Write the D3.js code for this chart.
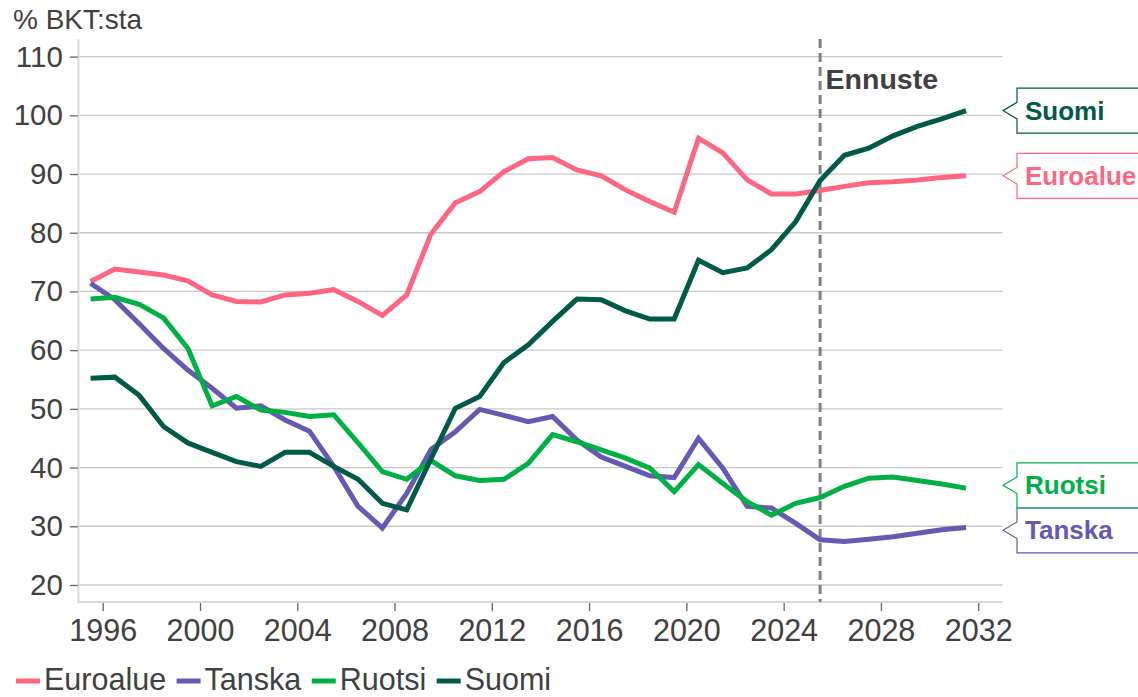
<!DOCTYPE html>
<html>
<head>
<meta charset="utf-8">
<script src="https://cdn.jsdelivr.net/npm/d3@7"></script>
<style>
  html, body { margin: 0; padding: 0; background: #fff; }
  svg { display: block; font-family: "Liberation Sans", Arial, sans-serif; }
</style>
</head>
<body>
<svg id="chart" width="1138" height="697"></svg>
<script>
// ---- Data ----
const years = [1995,1996,1997,1998,1999,2000,2001,2002,2003,2004,2005,2006,2007,2008,2009,2010,
  2011,2012,2013,2014,2015,2016,2017,2018,2019,2020,2021,2022,2023,2024,2025,2026,2027,2028,2029,2030,2031];

const euroalue = [71.7,73.8,73.3,72.8,71.8,69.4,68.3,68.2,69.4,69.7,70.3,68.3,65.9,69.4,79.8,85.1,
  87.0,90.4,92.6,92.8,90.7,89.7,87.3,85.3,83.5,96.1,93.6,89.0,86.6,86.6,87.2,87.9,88.5,88.7,89.0,89.4,89.7];

const tanska = [71.4,68.6,64.5,60.3,56.6,53.5,50.1,50.5,48.1,46.2,40.2,33.4,29.7,35.6,43.1,46.1,
  49.9,48.9,47.8,48.7,44.7,41.8,40.2,38.6,38.3,45.0,39.9,33.4,33.1,30.5,27.7,27.4,27.8,28.2,28.8,29.4,29.8];

const ruotsi = [68.7,69.0,67.8,65.5,60.3,50.5,52.1,49.8,49.4,48.7,49.0,44.2,39.3,38.0,41.2,38.6,
  37.8,38.0,40.7,45.6,44.4,43.0,41.6,39.9,35.9,40.5,37.3,34.2,31.9,33.9,34.9,36.8,38.2,38.4,37.8,37.2,36.5];

const suomi = [55.2,55.4,52.3,47.0,44.2,42.6,41.0,40.2,42.6,42.6,40.2,38.0,33.9,32.8,41.5,50.1,
  52.1,57.9,60.9,64.9,68.7,68.6,66.7,65.3,65.3,75.3,73.2,74.0,77.1,81.9,88.9,93.2,94.4,96.5,98.1,99.4,100.8];

const seriesNames = ["Euroalue", "Tanska", "Ruotsi", "Suomi"];
const seriesValues = [euroalue, tanska, ruotsi, suomi];
const seriesColors = ["#ff6682", "#6559b4", "#00b044", "#005a48"];

const yTicks = [20, 30, 40, 50, 60, 70, 80, 90, 100, 110];
const xTicks = [1996, 2000, 2004, 2008, 2012, 2016, 2020, 2024, 2028, 2032];
const forecastYear = 2025;
const forecastLabel = "Ennuste";
const yAxisTitle = "% BKT:sta";

// ---- Layout ----
const svg = d3.select("#chart");
const textColor = "#404040";
const plot = { left: 78.4, right: 1002.5, top: 39, bottom: 602 };

const x = d3.scaleLinear().domain([1995, 2033]).range([plot.left, plot.right]);
const y = d3.scaleLinear().domain([17.1, 113]).range([plot.bottom, plot.top]);

// gridlines
svg.append("g").selectAll("line").data(yTicks).join("line")
  .attr("x1", plot.left).attr("x2", plot.right)
  .attr("y1", d => y(d)).attr("y2", d => y(d))
  .attr("stroke", "#c8c8c8").attr("stroke-width", 1.3);

// frame (left & bottom)
svg.append("line").attr("x1", plot.left).attr("x2", plot.left)
  .attr("y1", plot.top).attr("y2", plot.bottom + 1)
  .attr("stroke", "#d9d9d9").attr("stroke-width", 2);
svg.append("line").attr("x1", plot.left).attr("x2", plot.right)
  .attr("y1", plot.bottom).attr("y2", plot.bottom)
  .attr("stroke", "#d9d9d9").attr("stroke-width", 2);

// y axis
const yAxis = d3.axisLeft(y).tickValues(yTicks).tickSize(8).tickPadding(7);
const gy = svg.append("g").attr("transform", `translate(${plot.left - 0.5},0)`).call(yAxis);
gy.select(".domain").remove();
gy.selectAll(".tick line").attr("stroke", "#666").attr("stroke-width", 1.3);
gy.selectAll(".tick text").attr("fill", textColor)
  .style("font-size", "29.5px").style("font-family", "Liberation Sans, Arial, sans-serif");

// x axis
const xAxis = d3.axisBottom(x).tickValues(xTicks).tickFormat(d3.format("d")).tickSize(8).tickPadding(8.5);
const gx = svg.append("g").attr("transform", `translate(0,${plot.bottom + 1})`).call(xAxis);
gx.select(".domain").remove();
gx.selectAll(".tick line").attr("stroke", "#666").attr("stroke-width", 1.3);
gx.selectAll(".tick text").attr("fill", textColor)
  .style("font-size", "30.5px").style("font-family", "Liberation Sans, Arial, sans-serif");

// axis title
svg.append("text").attr("x", 13).attr("y", 29.3)
  .attr("fill", textColor).style("font-size", "28px").text(yAxisTitle);

// forecast line
svg.append("line")
  .attr("x1", x(forecastYear + 0.5)).attr("x2", x(forecastYear + 0.5))
  .attr("y1", plot.top).attr("y2", plot.bottom)
  .attr("stroke", "#808080").attr("stroke-width", 3)
  .attr("stroke-dasharray", "9,5");
svg.append("text").attr("x", x(forecastYear + 0.5) + 5.5).attr("y", 89.3)
  .attr("fill", textColor).style("font-size", "28.5px").style("font-weight", "bold")
  .text(forecastLabel);

// lines
const line = d3.line().x((d, i) => x(years[i] + 0.5)).y(d => y(d));
seriesValues.forEach((vals, k) => {
  svg.append("path").datum(vals)
    .attr("fill", "none")
    .attr("stroke", seriesColors[k])
    .attr("stroke-width", 5)
    .attr("stroke-linejoin", "miter")
    .attr("d", line);
});

// right-hand callout labels
const boxH = 45;
const labels = seriesNames.map((name, k) => ({
  name, color: seriesColors[k], yv: y(seriesValues[k][seriesValues[k].length - 1])
}));
labels.forEach(l => l.pos = l.yv);
const sorted = labels.slice().sort((a, b) => a.pos - b.pos);
for (let iter = 0; iter < 20; iter++) {
  for (let i = 1; i < sorted.length; i++) {
    const a = sorted[i - 1], b = sorted[i];
    const overlap = boxH - (b.pos - a.pos);
    if (overlap > 0) { a.pos -= overlap / 2; b.pos += overlap / 2; }
  }
}
const tipX = plot.right + 0.5, boxL = tipX + 14, boxR = 1145, notch = 8.3;
labels.forEach(l => {
  const c = l.pos, t = c - boxH / 2, b = c + boxH / 2;
  svg.append("path")
    .attr("d", `M${boxL},${t} H${boxR} V${b} H${boxL} V${c + notch} L${tipX},${c} L${boxL},${c - notch} Z`)
    .attr("fill", "#fff").attr("stroke", l.color).attr("stroke-width", 1.2);
  svg.append("text").attr("x", boxL + 8).attr("y", c).attr("dy", "0.35em")
    .attr("fill", l.color).style("font-size", "26px").style("font-weight", "bold")
    .text(l.name);
});

// legend
const lg = svg.append("g");
let lx = 16;
const ly = 681;
seriesNames.forEach((name, k) => {
  lg.append("line").attr("x1", lx).attr("x2", lx + 24).attr("y1", ly).attr("y2", ly)
    .attr("stroke", seriesColors[k]).attr("stroke-width", 5);
  const t = lg.append("text").attr("x", lx + 28).attr("y", 689.5)
    .attr("fill", textColor).style("font-size", "30.5px").text(name);
  lx = lx + 28 + t.node().getComputedTextLength() + 10.5;
});
</script>
</body>
</html>
